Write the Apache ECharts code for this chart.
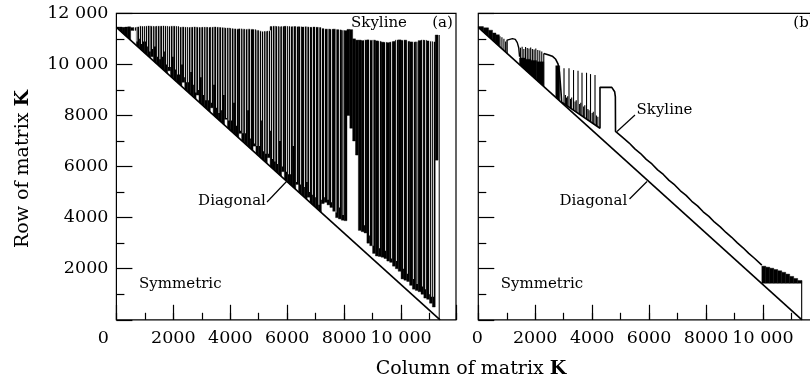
<!DOCTYPE html>
<html><head><meta charset="utf-8">
<script src="https://cdn.jsdelivr.net/npm/echarts/dist/echarts.min.js"></script>
<style>html,body{margin:0;padding:0;background:#fff}#c{width:810px;height:383px}</style>
</head><body><div id="c"></div>
<script>
// ---------------- DATA ----------------
// Axis extents and tick labels
const X_MAX = 11930;
const Y_MAX = 12000;
const xTickVals = [0, 2000, 4000, 6000, 8000, 10000];
const xTickText = ['0', '2000', '4000', '6000', '8000', '10 000'];
const yTickVals = [2000, 4000, 6000, 8000, 10000, 12000];
const yTickText = ['2000', '4000', '6000', '8000', '10 000', '12 000'];

// Diagonal of the matrix (column, row) in both panels
const diagA = [[0, 11450], [11370, 0]];
const diagB = [[0, 11450], [11370, 0]];

// Panel (a): skyline profile per 100-column bin: highest and lowest skyline row in the bin
// (null = column heights reach down to the diagonal)
const binA = 100;
const hiA = [11460,11460,11450,11460,11470,11440,11440,11460,
  11490,11480,11490,11500,11490,11480,11490,11490,11500,11490,11480,11490,11490,11480,
  11450,11460,11450,11440,11450,11460,11450,11440,11450,11450,11440,11450,11460,11450,11440,11430,11420,11420,
  11400,11390,11380,11390,11380,11370,11380,11370,11360,11330,
  11300,11280,11290,11300,
  11480,11490,11480,11470,11480,11490,11480,11470,11480,11470,11470,
  11460,11470,11460,11450,11460,11450,11440,
  11400,11380,11380,11370,11380,11360,11350,
  11330,11320,11370,11360,
  11000,10950,10950,10930,10950,10960,10940,10950,10920,10900,10870,10860,10850,10870,10900,
  10950,10960,10940,10950,10900,10880,10870,10880,10930,10950,10940,10920,10900,10880,11150];
const loA = [null,null,null,null,null,11330,11330,null,null,null,null,null,10300,
  null,null,null,null,null,9750,null,null,null,null,9300,null,null,null,null,8800,
  null,null,null,null,8300,null,null,null,null,7850,null,null,null,null,7300,
  null,null,null,null,6800,null,null,null,null,6350,null,null,null,null,5800,
  null,null,null,null,5300,null,null,null,4800,null,null,null,null,
  4550,4600,4500,4400,4250,4000,3950,3900,3880,
  8000,7500,7000,6450,
  3500,3450,3400,3000,2900,2600,2500,2480,2450,2400,2300,2250,2100,2000,1900,
  1600,1550,1500,1350,1200,1150,1100,1000,850,800,650,500,6250];
// Panel (a): short columns (white streaks): [column, skyline row]
const gapsA = [[618,11100],[706,10900],[794,11000],[865,10800],[935,10900],[1005,10900],[1075,10700],
  [1163,10500],[1251,10600],[1338,10700],[1426,10300],[1514,10200],[1602,10300],[1672,10500],
  [1743,10000],[1813,9900],[1883,9900],[1971,10300],[2059,9800],[2129,9600],[2199,9600],[2287,10000],
  [2375,9500],[2445,9300],[2515,9300],[2603,9700],[2691,9200],[2779,8900],[2867,9000],[2955,9500],
  [3042,8800],[3130,8600],[3218,8600],[3323,8500],[3411,9200],[3499,8300],[3587,8100],[3675,8200],
  [3762,8800],[3850,7900],[3938,7800],[4026,7800],[4114,8500],[4202,7600],[4342,7400],[4430,7300],
  [4518,7300],[4605,8200],[4693,7100],[4834,6900],[4921,6800],[5009,6800],[5080,7800],[5150,6600],
  [5238,6500],[5326,6500],[5396,7400],[5466,6300],[5554,6200],[5642,6100],[5730,7000],[5817,6000],
  [5958,5800],[6028,5700],[6098,5700],[6200,6800],[6309,5400],[6450,5300],[6590,5200],[6680,5400],
  [6766,5000],[6870,4900],[6977,4800],[7100,4500],[7188,4700],[7293,4800],[7420,4700],[7539,4600],
  [7700,4200],[7820,4400],[7950,4100],[8698,3700],[8874,3300],[9000,2900],[9225,2800],[9436,2700],
  [9650,2400],[9822,2300],[10068,2000],[10208,1800],[10419,1600],[10550,1400],[10735,1300],[10840,1200],
  [10981,1000],[11050,900],[11121,900]];
// Panel (a): last column
const edgeA = [[11340, 30], [11340, 11150]];

// Panel (b): solid regions [colStart, colEnd, lowRow (null = diagonal), highRow]
const fillB = [[0,180,null,11480],[180,360,null,11430],[360,500,null,11340],[500,620,null,11230],[620,740,null,11160],
  [1450,1650,null,10250],[1650,1850,null,10200],[1850,2050,null,10150],[2050,2300,null,10100],[2720,2860,null,9950],
  [9960,10100,1430,2100],[10100,10240,1430,2060],[10240,10380,1430,2020],[10380,10520,1430,1970],[10520,10660,1430,1920],
  [10660,10800,1430,1860],[10800,10940,1430,1790],[10940,11080,1430,1700],[11080,11220,1430,1620],[11220,11360,1430,1540]];
// Panel (b): single tall columns [column, lowRow (null = diagonal), highRow]
const spikesB = [[760,null,11100],[830,null,11060],[900,null,11000],[960,null,10900],
  [1480,null,10650],[1540,null,10690],[1600,null,10600],[1660,null,10680],[1720,null,10640],[1780,null,10620],
  [1840,null,10660],[1900,null,10600],[1960,null,10580],[2020,null,10620],[2090,null,10560],[2160,null,10540],
  [2230,null,10500],[2300,null,10430],
  [3011,8459,9845],[3186,8326,9845],[3345,8205,9777],[3503,8085,9750],[3643,7979,9672],[3802,7859,9672],
  [3942,7753,9620],[4100,7633,9580],
  [3060,8421,8800],[3100,8391,8700],[3140,8361,8750],[3240,8285,8650],[3280,8255,8700],[3400,8164,8550],
  [3440,8133,8600],[3560,8042,8450],[3600,8012,8500],[3700,7936,8350],[3740,7906,8400],[3850,7823,8250],
  [3890,7792,8200],[4000,7709,8100],[4040,7679,8150],[4150,7595,8000],[4200,7557,7950],
  [11360,null,1540]];
// Panel (b): skyline traces
const archB = [[1010,10433],[1010,10950],[1050,11010],[1200,11010],[1300,10980],[1370,10850],[1420,10650],[1450,10300]];
const mainB = [[2300,10430],[2450,10380],[2600,10320],[2720,10200],[2800,10020],[2850,9700],[2900,9000],[2930,8520],
  [4275,7500],[4275,9100],[4690,9100],[4740,9060],[4790,8930],[4815,8730],[4820,7380],[4860,7360],
  [5100,7110],[5300,6920],[5500,6690],[5700,6510],[5900,6280],[6100,6100],[6300,5870],[6500,5690],[6700,5460],
  [6900,5280],[7100,5050],[7300,4870],[7500,4640],[7700,4460],[7900,4230],[8100,4050],[8300,3820],[8500,3640],
  [8700,3420],[8900,3230],[9100,3010],[9300,2820],[9500,2600],[9700,2410],[9960,2140]];

// ---------------- CHART ----------------
const FONT = 'DejaVu Serif';
const chart = echarts.init(document.getElementById('c'), null, {renderer: 'canvas'});

function diagRowAt(diag, c) {
  const p0 = diag[0], p1 = diag[1];
  const t = (c - p0[0]) / (p1[0] - p0[0]);
  return p0[1] + t * (p1[1] - p0[1]);
}
function bandRender(diag, lows) {
  return function (params, api) {
    const c0 = api.value(0), c1 = api.value(1), hi = api.value(2);
    const lo = lows[params.dataIndex];
    const b0 = lo == null ? diagRowAt(diag, c0) : lo;
    const b1 = lo == null ? diagRowAt(diag, c1) : lo;
    return {type: 'polygon', shape: {points: [api.coord([c0, hi]), api.coord([c1, hi]), api.coord([c1, b1]), api.coord([c0, b0])]},
      style: {fill: '#000', stroke: '#000', lineWidth: 0.4}};
  };
}
const binsA = hiA.map((h, i) => [i * binA, (i + 1) * binA, h]);
const lowsB = fillB.map(f => f[2]);
const lineStyleBlack = {color: '#000', width: 1.2};

function xAxes(g, zeroShift) {
  return [
    {type: 'value', gridIndex: g, position: 'bottom', min: 0, max: X_MAX, interval: 2000,
      axisLine: {show: false}, splitLine: {show: false},
      axisTick: {show: true, inside: true, length: 15, lineStyle: lineStyleBlack},
      axisLabel: {show: true, margin: 10, color: '#000', fontFamily: FONT, fontSize: 17.5,
        showMinLabel: true, showMaxLabel: true,
        rich: {z: {fontFamily: FONT, fontSize: 17.5, color: '#000', padding: [0, zeroShift * 2, 0, 0]}},
        formatter: v => { const k = xTickVals.indexOf(v); if (k < 0) return ''; if (v === 0) return '{z|0}'; return xTickText[k]; }}},
    {type: 'value', gridIndex: g, position: 'bottom', min: 0, max: X_MAX, interval: 1000,
      axisLine: {show: false}, splitLine: {show: false},
      axisTick: {show: true, inside: true, length: 7, lineStyle: lineStyleBlack},
      axisLabel: {show: false}}
  ];
}
function yAxis(g, labels) {
  return {type: 'value', gridIndex: g, position: 'left', min: 0, max: Y_MAX, interval: 2000,
    axisLine: {show: false}, splitLine: {show: false}, minorSplitLine: {show: false},
    axisTick: {show: true, inside: true, length: 16, lineStyle: lineStyleBlack},
    minorTick: {show: true, splitNumber: 2, length: 8, lineStyle: lineStyleBlack},
    axisLabel: {show: labels, margin: 8, color: '#000', fontFamily: FONT, fontSize: 17.5,
      showMinLabel: true, showMaxLabel: true,
      formatter: v => { const k = yTickVals.indexOf(v); return k < 0 ? '' : yTickText[k]; }}};
}
const gridCommon = {show: true, borderColor: '#000', borderWidth: 1.2, backgroundColor: 'transparent', containLabel: false, outerBoundsMode: 'none'};
const lineSeries = (name, xi, yi, data, w) => ({type: 'line', name, xAxisIndex: xi, yAxisIndex: yi, data,
  symbol: 'none', smooth: false, z: 5, silent: true, lineStyle: {color: '#000', width: w}});
const T = (text, x, y, size, align) => ({type: 'text', x, y, z: 100, silent: true,
  style: {text, font: size + 'px "' + FONT + '"', fill: '#000', align: align || 'center', verticalAlign: 'middle'}});
const L = (x1, y1, x2, y2) => ({type: 'line', z: 100, silent: true, shape: {x1, y1, x2, y2}, style: {stroke: '#000', lineWidth: 1.2}});

chart.setOption({
  animation: false,
  backgroundColor: '#fff',
  grid: [
    Object.assign({}, gridCommon, {left: 116.4, top: 13.3, width: 339.6, height: 306.5}),
    Object.assign({}, gridCommon, {left: 478.3, top: 13.3, width: 339.6, height: 306.5})
  ],
  xAxis: xAxes(0, 13).concat(xAxes(1, 1)),
  yAxis: [yAxis(0, true), yAxis(1, false)],
  series: [
    {type: 'custom', name: 'skylineA', xAxisIndex: 0, yAxisIndex: 0, z: 2, silent: true,
      data: binsA, encode: {x: [0, 1], y: 2}, renderItem: bandRender(diagA, loA)},
    {type: 'custom', name: 'shortColsA', xAxisIndex: 0, yAxisIndex: 0, z: 3, silent: true,
      data: gapsA, encode: {x: 0, y: 1},
      renderItem: (params, api) => {
        const c = api.value(0), top = api.value(1);
        const hi = hiA[Math.min(hiA.length - 1, Math.floor(c / binA))] + 40;
        const p0 = api.coord([c, hi]), p1 = api.coord([c + 28, top]);
        return {type: 'rect', shape: {x: p0[0], y: p0[1], width: p1[0] - p0[0], height: p1[1] - p0[1]}, style: {fill: '#fff'}};
      }},
    lineSeries('diagA', 0, 0, diagA, 1.6),
    lineSeries('edgeA', 0, 0, edgeA, 1),
    {type: 'custom', name: 'fillB', xAxisIndex: 2, yAxisIndex: 1, z: 2, silent: true,
      data: fillB.map(f => [f[0], f[1], f[3]]), encode: {x: [0, 1], y: 2}, renderItem: bandRender(diagB, lowsB)},
    {type: 'custom', name: 'spikesB', xAxisIndex: 2, yAxisIndex: 1, z: 3, silent: true,
      data: spikesB.map(s => [s[0], s[2]]), encode: {x: 0, y: 1},
      renderItem: (params, api) => {
        const c = api.value(0), hi = api.value(1);
        const lo = spikesB[params.dataIndex][1];
        const b = lo == null ? diagRowAt(diagB, c) : lo;
        const p0 = api.coord([c, b]), p1 = api.coord([c, hi]);
        return {type: 'line', shape: {x1: p0[0], y1: p0[1], x2: p1[0], y2: p1[1]}, style: {stroke: '#000', lineWidth: 1.1}};
      }},
    lineSeries('archB', 2, 1, archB, 1.4),
    lineSeries('mainB', 2, 1, mainB, 1.6),
    lineSeries('diagB', 2, 1, diagB, 1.6)
  ],
  graphic: [
    T('Skyline', 379, 23, 15), T('(a)', 442.5, 23, 15),
    T('Diagonal', 232, 201, 15), L(267, 202, 286.5, 181.5),
    T('Symmetric', 180.3, 284, 15),
    T('Skyline', 664.5, 110, 15), L(617, 131.5, 635, 115),
    T('Diagonal', 593.3, 201, 15), L(629.5, 199, 647, 181.5),
    T('Symmetric', 542, 284, 15),
    T('(b)', 793.3, 23, 15, 'left'),
    {type: 'text', x: 23, y: 169, rotation: Math.PI / 2, z: 100, silent: true,
      style: {text: '{n|Row of matrix }{b|K}', align: 'center', verticalAlign: 'middle',
        rich: {n: {fontFamily: FONT, fontSize: 19, fill: '#000'}, b: {fontFamily: FONT, fontSize: 19, fontWeight: 'bold', fill: '#000'}}}},
    {type: 'text', x: 471, y: 369, z: 100, silent: true,
      style: {text: '{n|Column of matrix }{b|K}', align: 'center', verticalAlign: 'middle',
        rich: {n: {fontFamily: FONT, fontSize: 19, fill: '#000'}, b: {fontFamily: FONT, fontSize: 19, fontWeight: 'bold', fill: '#000'}}}}
  ]
});
</script></body></html>
